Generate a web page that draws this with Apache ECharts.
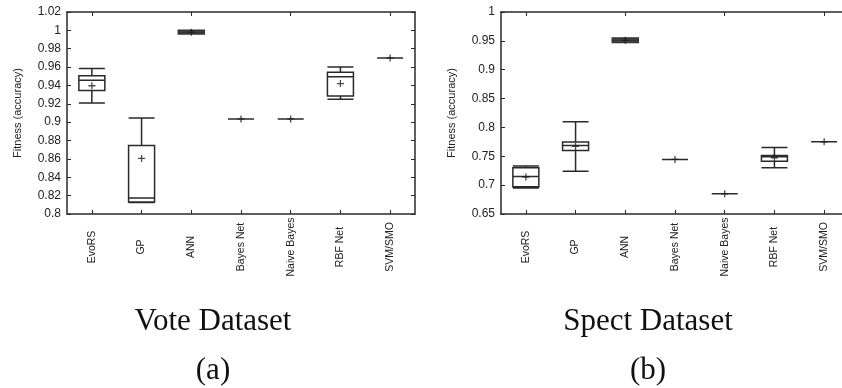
<!DOCTYPE html>
<html>
<head>
<meta charset="utf-8">
<script src="https://cdn.jsdelivr.net/npm/echarts@6/dist/echarts.min.js"></script>
<style>html,body{margin:0;padding:0;background:#fff;}#c{width:842px;height:388px;}</style>
</head>
<body>
<div id="c"></div>
<script>
const categories = ['EvoRS', 'GP', 'ANN', 'Bayes Net', 'Naive Bayes', 'RBF Net', 'SVM/SMO'];

// [min, Q1, median, Q3, max]
const voteBoxes = [
  [0.921, 0.9345, 0.9457, 0.9505, 0.9585],
  [0.8125, 0.8132, 0.8175, 0.8747, 0.9045],
  [0.996, 0.996, 0.998, 1.0, 1.0],
  [0.9035, 0.9035, 0.9035, 0.9035, 0.9035],
  [0.9035, 0.9035, 0.9035, 0.9035, 0.9035],
  [0.925, 0.9286, 0.9496, 0.9543, 0.96],
  [0.970, 0.970, 0.970, 0.970, 0.970]
];
const voteMeans = [0.9397, 0.8605, 0.998, 0.9035, 0.9035, 0.942, 0.970];

const spectBoxes = [
  [0.695, 0.697, 0.7148, 0.7302, 0.733],
  [0.724, 0.760, 0.7688, 0.7746, 0.810],
  [0.947, 0.947, 0.951, 0.955, 0.955],
  [0.7445, 0.7445, 0.7445, 0.7445, 0.7445],
  [0.685, 0.685, 0.685, 0.685, 0.685],
  [0.730, 0.7415, 0.749, 0.7515, 0.7654],
  [0.775, 0.775, 0.775, 0.775, 0.775]
];
const spectMeans = [0.714, 0.767, 0.951, 0.7445, 0.685, 0.7475, 0.775];

const voteTicks = { min: 0.8, max: 1.02, interval: 0.02 };
const spectTicks = { min: 0.65, max: 1.0, interval: 0.05 };

const titles = ['Vote Dataset', 'Spect Dataset'];
const subLabels = ['(a)', '(b)'];
const yName = 'Fitness (accuracy)';

const filledCategory = 'ANN';

const LINE = '#2a2a2a';
const SANS = 'Liberation Sans, Arial, sans-serif';
const SERIF = 'Liberation Serif, Times New Roman, serif';

const chart = echarts.init(document.getElementById('c'), null, { renderer: 'canvas' });

const grids = [
  { left: 67, top: 12, width: 348, height: 202, outerBoundsMode: 'none', containLabel: false },
  { left: 501, top: 12, width: 348, height: 202, outerBoundsMode: 'none', containLabel: false }
];

function xAxes(gi) {
  return [
    {
      type: 'category', gridIndex: gi, position: 'bottom', data: categories,
      boundaryGap: true,
      axisLine: { show: true, lineStyle: { color: LINE, width: 1.5 } },
      axisTick: { show: true, inside: true, length: 4, alignWithLabel: true, lineStyle: { color: LINE, width: 1 } },
      axisLabel: { rotate: 90, align: 'center', verticalAlign: 'middle', margin: 33, interval: 0,
        color: '#222', fontFamily: SANS, fontSize: 10.5 },
      splitLine: { show: false }
    },
    {
      type: 'category', gridIndex: gi, position: 'top', data: categories,
      boundaryGap: true,
      axisLine: { show: true, lineStyle: { color: LINE, width: 1.5 } },
      axisTick: { show: true, inside: true, length: 4, alignWithLabel: true, lineStyle: { color: LINE, width: 1 } },
      axisLabel: { show: false },
      splitLine: { show: false }
    }
  ];
}

function yAxes(gi, t) {
  const fmt = v => String(+v.toFixed(2));
  return [
    {
      type: 'value', gridIndex: gi, position: 'left', min: t.min, max: t.max, interval: t.interval,
      name: yName, nameLocation: 'middle', nameRotate: 90, nameGap: 44,
      nameTextStyle: { color: '#222', fontFamily: SANS, fontSize: 11 },
      axisLine: { show: true, lineStyle: { color: LINE, width: 1.5 } },
      axisTick: { show: true, inside: true, length: 4, lineStyle: { color: LINE, width: 1 } },
      axisLabel: { formatter: fmt, margin: 6, color: '#222', fontFamily: SANS, fontSize: 12 },
      splitLine: { show: false }
    },
    {
      type: 'value', gridIndex: gi, position: 'right', min: t.min, max: t.max, interval: t.interval,
      axisLine: { show: true, lineStyle: { color: LINE, width: 1.5 } },
      axisTick: { show: true, inside: true, length: 4, lineStyle: { color: LINE, width: 1 } },
      axisLabel: { show: false },
      splitLine: { show: false }
    }
  ];
}

function boxSeries(gi, boxes) {
  return {
    type: 'boxplot', xAxisIndex: gi * 2, yAxisIndex: gi * 2,
    boxWidth: [26, 26],
    silent: true,
    itemStyle: { color: '#ffffff', borderColor: LINE, borderWidth: 1.5 },
    data: boxes.map((b, i) => categories[i] === filledCategory
      ? { value: b, itemStyle: { color: '#4a4a4a', borderColor: '#333' } }
      : b)
  };
}

function meanSeries(gi, means) {
  return {
    type: 'scatter', xAxisIndex: gi * 2, yAxisIndex: gi * 2,
    symbol: 'path://M0,5L10,5M5,0L5,10',
    symbolSize: 7,
    silent: true,
    itemStyle: { color: 'none', borderColor: '#1a1a1a', borderWidth: 1.3 },
    data: means,
    z: 5
  };
}

const graphicTexts = [];
[213, 648].forEach((cx, i) => {
  graphicTexts.push({ type: 'text', x: cx, y: 322, style: { text: titles[i], textAlign: 'center', textVerticalAlign: 'middle', font: '31px ' + SERIF, fill: '#111' } });
  graphicTexts.push({ type: 'text', x: cx, y: 371, style: { text: subLabels[i], textAlign: 'center', textVerticalAlign: 'middle', font: '31px ' + SERIF, fill: '#111' } });
});

chart.setOption({
  animation: false,
  backgroundColor: '#fff',
  grid: grids,
  xAxis: [...xAxes(0), ...xAxes(1)],
  yAxis: [...yAxes(0, voteTicks), ...yAxes(1, spectTicks)],
  series: [
    boxSeries(0, voteBoxes), meanSeries(0, voteMeans),
    boxSeries(1, spectBoxes), meanSeries(1, spectMeans)
  ],
  graphic: graphicTexts
});
</script>
</body>
</html>
